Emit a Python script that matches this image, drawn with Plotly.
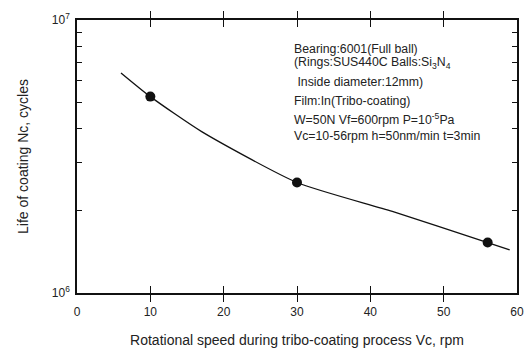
import plotly.graph_objects as go

# data
curve_x = [6, 10, 17, 30, 43, 56, 59]
curve_y = [6.4e6, 5.24e6, 3.9e6, 2.54e6, 1.99e6, 1.53e6, 1.44e6]
point_x = [10, 30, 56]
point_y = [5.24e6, 2.54e6, 1.53e6]
x_ticks = [0, 10, 20, 30, 40, 50, 60]
y_tickvals = [1e6, 1e7]
y_ticktext = ["10<sup>6</sup>", "10<sup>7</sup>"]
y_minor = [2e6, 3e6, 4e6, 5e6, 6e6, 7e6, 8e6, 9e6]

note_lines = [
    "Bearing:6001(Full ball)",
    "(Rings:SUS440C Balls:Si<sub>3</sub>N<sub>4</sub>",
    " Inside diameter:12mm)",
    "Film:In(Tribo-coating)",
    "W=50N Vf=600rpm P=10<sup>-5</sup>Pa",
    "Vc=10-56rpm h=50nm/min t=3min",
]
note_ypx = [49, 63, 82, 101, 119, 136]

FONT = "Liberation Sans, Arial, sans-serif"
TXT = "#222"

fig = go.Figure()
fig.add_trace(go.Scatter(x=curve_x, y=curve_y, mode="lines",
                         line=dict(color="#111", width=1.3, shape="spline", smoothing=0.6),
                         hoverinfo="skip"))
fig.add_trace(go.Scatter(x=point_x, y=point_y, mode="markers",
                         marker=dict(color="#111", size=10)))
# invisible trace to carry the right-hand mirrored axis
fig.add_trace(go.Scatter(x=point_x, y=point_y, yaxis="y2", mode="markers",
                         marker=dict(opacity=0), hoverinfo="skip"))

L, R, T, B, W, H = 77, 12, 20, 65, 529, 358
plot_h = H - T - B
for txt, ypx in zip(note_lines, note_ypx):
    fig.add_annotation(x=29.3, xref="x", y=(H - B - ypx) / plot_h, yref="paper",
                       text=txt, showarrow=False, xanchor="left", yanchor="middle",
                       font=dict(family=FONT, size=12.3, color=TXT))

fig.update_layout(
    width=W, height=H, margin=dict(l=L, r=R, t=T, b=B),
    paper_bgcolor="white", plot_bgcolor="white", showlegend=False,
    font=dict(family=FONT, color=TXT, size=12),
    yaxis2=dict(type="log", range=[6, 7], overlaying="y", anchor="x", side="right",
                tickvals=y_minor, ticks="inside", ticklen=5, tickcolor="#111",
                showticklabels=False, showgrid=False, zeroline=False, showline=False,
                automargin=False),
)
fig.update_xaxes(range=[0, 60], tickvals=x_ticks, ticks="inside", ticklen=7,
                 tickcolor="#111", showline=True, linecolor="#111", linewidth=1.5,
                 mirror="allticks", showgrid=False, zeroline=False, automargin=False,
                 ticklabelstandoff=7,
                 tickfont=dict(size=12, color=TXT),
                 title=dict(text="Rotational speed during tribo-coating process Vc, rpm",
                            font=dict(size=14, color=TXT), standoff=17))
fig.update_yaxes(selector=dict(type="log", overlaying=None), type="log")
fig.layout.yaxis.update(type="log", range=[6, 7], tickvals=y_tickvals, ticktext=y_ticktext,
                        ticks="", showline=True, linecolor="#111", linewidth=1.5,
                        mirror=True, showgrid=False, zeroline=False, automargin=False,
                        ticklabelstandoff=3,
                        tickfont=dict(size=12, color=TXT),
                        minor=dict(ticks="inside", ticklen=5, tickcolor="#111", tickvals=y_minor),
                        title=dict(text="Life of coating Nc, cycles",
                                   font=dict(size=14, color=TXT), standoff=20))

fig.write_html("out.html", config={"displayModeBar": False},
               post_script="document.body.style.margin='0';")
